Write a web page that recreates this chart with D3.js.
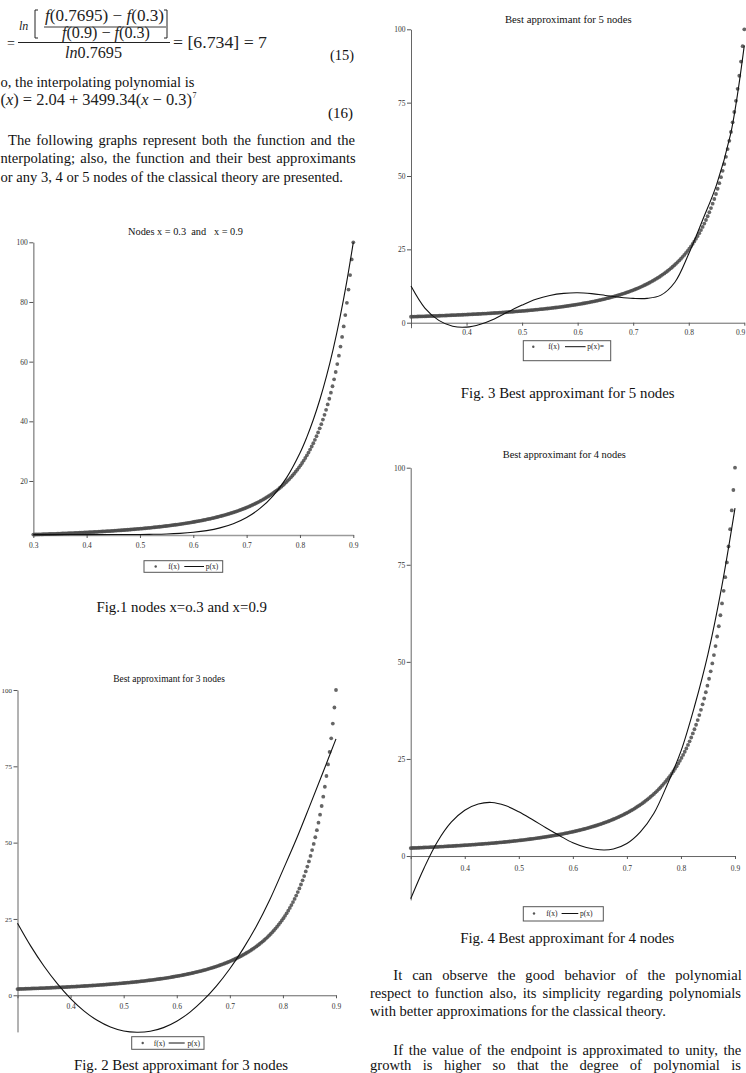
<!DOCTYPE html>
<html><head><meta charset="utf-8">
<script src="https://cdn.jsdelivr.net/npm/d3@7"></script>
<style>
html,body{margin:0;padding:0;background:#fff;overflow:hidden}
svg{display:block}
</style></head>
<body><svg id="page" width="746" height="1073"></svg>
<script>
// ---------- DATA ----------
// f(x) sample points (same function in every figure)
const fX = [
0.300,0.303,0.306,0.309,0.312,0.315,0.318,0.321,0.324,0.327,
0.330,0.333,0.336,0.339,0.342,0.345,0.348,0.351,0.354,0.357,
0.360,0.363,0.366,0.369,0.372,0.375,0.378,0.381,0.384,0.387,
0.390,0.393,0.396,0.399,0.402,0.405,0.408,0.411,0.414,0.417,
0.420,0.423,0.426,0.429,0.432,0.435,0.438,0.441,0.444,0.447,
0.450,0.453,0.456,0.459,0.462,0.465,0.468,0.471,0.474,0.477,
0.480,0.483,0.486,0.489,0.492,0.495,0.498,0.501,0.504,0.507,
0.510,0.513,0.516,0.519,0.522,0.525,0.528,0.531,0.534,0.537,
0.540,0.543,0.546,0.549,0.552,0.555,0.558,0.561,0.564,0.567,
0.570,0.573,0.576,0.579,0.582,0.585,0.588,0.591,0.594,0.597,
0.600,0.603,0.606,0.609,0.612,0.615,0.618,0.621,0.624,0.627,
0.630,0.633,0.636,0.639,0.642,0.645,0.648,0.651,0.654,0.657,
0.660,0.663,0.666,0.669,0.672,0.675,0.678,0.681,0.684,0.687,
0.690,0.693,0.696,0.699,0.702,0.705,0.708,0.711,0.714,0.717,
0.720,0.723,0.726,0.729,0.732,0.735,0.738,0.741,0.744,0.747,
0.750,0.753,0.756,0.759,0.762,0.765,0.768,0.771,0.774,0.777,
0.780,0.783,0.786,0.789,0.792,0.795,0.798,0.801,0.804,0.807,
0.810,0.813,0.816,0.819,0.822,0.825,0.828,0.831,0.834,0.837,
0.840,0.843,0.846,0.849,0.852,0.855,0.858,0.861,0.864,0.867,
0.870,0.873,0.876,0.879,0.882,0.885,0.888,0.891,0.894,0.897,
0.900];
const fY = [
2.04,2.06,2.08,2.09,2.11,2.13,2.15,2.17,2.19,2.21,
2.23,2.25,2.27,2.29,2.31,2.33,2.35,2.37,2.40,2.42,
2.44,2.46,2.49,2.51,2.54,2.56,2.58,2.61,2.64,2.66,
2.69,2.71,2.74,2.77,2.80,2.82,2.85,2.88,2.91,2.94,
2.97,3.00,3.04,3.07,3.10,3.13,3.17,3.20,3.23,3.27,
3.31,3.34,3.38,3.42,3.45,3.49,3.53,3.57,3.61,3.66,
3.70,3.74,3.79,3.83,3.88,3.92,3.97,4.02,4.06,4.11,
4.16,4.22,4.27,4.32,4.38,4.43,4.49,4.55,4.61,4.66,
4.73,4.79,4.85,4.92,4.98,5.05,5.12,5.19,5.26,5.33,
5.41,5.48,5.56,5.64,5.72,5.81,5.89,5.98,6.07,6.16,
6.25,6.34,6.44,6.54,6.64,6.75,6.85,6.96,7.07,7.19,
7.30,7.42,7.55,7.67,7.80,7.93,8.07,8.21,8.35,8.50,
8.65,8.81,8.96,9.13,9.30,9.47,9.64,9.83,10.01,10.21,
10.41,10.61,10.82,11.04,11.26,11.49,11.73,11.97,12.23,12.49,
12.76,13.03,13.32,13.62,13.92,14.24,14.57,14.91,15.26,15.62,
16.00,16.39,16.80,17.22,17.65,18.11,18.58,19.07,19.58,20.11,
20.66,21.24,21.84,22.46,23.11,23.80,24.51,25.25,26.03,26.85,
27.70,28.60,29.54,30.52,31.56,32.65,33.80,35.01,36.29,37.64,
39.06,40.57,42.17,43.86,45.65,47.56,49.59,51.76,54.07,56.53,
59.17,62.00,65.04,68.30,71.82,75.61,79.72,84.17,89.00,94.26,
100];

// p(x) curves, one per figure
const p1X = [0.3,0.35,0.4,0.45,0.5,0.525,0.55,0.575,0.6,0.625,0.65,0.675,0.7,0.725,0.75,0.775,0.8,0.8125,0.825,0.8375,0.85,0.8625,0.875,0.8875,0.9];
const p1Y = [2.04,2.04,2.04,2.05,2.08,2.14,2.25,2.46,2.81,3.38,4.29,5.69,7.77,10.80,15.12,21.13,29.38,34.54,40.51,47.40,55.31,64.39,74.76,86.57,99.99];

const p2X = [0.3,0.325,0.35,0.375,0.4,0.425,0.45,0.475,0.5,0.525,0.55,0.575,0.6,0.625,0.65,0.675,0.7,0.725,0.75,0.775,0.8,0.825,0.85,0.875,0.9];
const p2Y = [23.6,16.1,9.5,3.8,-1.1,-5.1,-8.2,-10.4,-11.7,-12.1,-11.8,-10.6,-8.5,-5.5,-1.6,3.1,8.7,15.2,22.6,31.2,41.0,51.0,61.8,72.8,84.0];

const p3X = [0.3,0.325,0.35,0.375,0.4,0.425,0.45,0.475,0.5,0.525,0.55,0.575,0.6,0.625,0.65,0.675,0.7,0.725,0.75,0.775,0.8,0.825,0.85,0.875,0.8875,0.9];
const p3Y = [12.5,5.0,0.8,-1.2,-1.5,-0.5,1.3,3.7,6.0,8.0,9.3,10.0,10.2,9.9,9.3,8.7,8.3,8.3,9.4,13.8,23.5,35.0,47.0,64.0,77.5,94.5];

const p4X = [0.3,0.325,0.35,0.375,0.4,0.425,0.45,0.475,0.5,0.525,0.55,0.575,0.6,0.625,0.65,0.675,0.7,0.725,0.75,0.775,0.8,0.825,0.85,0.875,0.9];
const p4Y = [-11.0,-3.0,3.8,8.7,11.8,13.4,13.8,13.0,11.4,9.4,7.3,5.3,3.4,2.2,1.6,1.8,3.2,6.2,11.0,18.5,27.0,38.5,52.0,69.0,89.6];

// ticks
const xTicks = [0.3,0.4,0.5,0.6,0.7,0.8,0.9];
const xTickLabels = ["0.3","0.4","0.5","0.6","0.7","0.8","0.9"];
const yTicksA = [20,40,60,80,100];
const yTicksB = [0,25,50,75,100];

// texts
const titles = ["Nodes x = 0.3  and   x = 0.9","Best approximant for 3 nodes","Best approximant for 5 nodes","Best approximant for 4 nodes"];
const captions = ["Fig.1 nodes x=o.3 and x=0.9","Fig. 2 Best approximant for 3 nodes","Fig. 3 Best approximant for 5 nodes","Fig. 4 Best approximant for 4 nodes"];
const legendF = "f(x)";
const legendP = ["p(x)","p(x)","p(x)=","p(x)"];

// ---------- HELPERS ----------
const SERIF = "Liberation Serif, Tinos, Times New Roman, serif";
const svg = d3.select("#page");
svg.append("rect").attr("width",746).attr("height",1073).attr("fill","#fff");

function txt(x,y,s,size,o){
  o = o||{};
  const t = svg.append("text").attr("x",x).attr("y",y).text(s)
    .style("font-family",SERIF).attr("font-size",size).attr("fill",o.fill||"#111")
    .style("white-space","pre");
  if(o.anchor) t.attr("text-anchor",o.anchor);
  if(o.italic) t.attr("font-style","italic");
  if(o.mid) t.attr("dominant-baseline","central");
  if(o.fit) fit(t,o.fit);
  return t;
}
function fit(t,target){
  const w = t.node().getComputedTextLength();
  const fs = +t.attr("font-size");
  const nf = fs*target/w;
  t.attr("font-size",nf);
  return nf;
}
function justify(t,target){
  const w = t.node().getComputedTextLength();
  const n = (t.text().match(/ /g)||[]).length;
  if(n>0) t.style("word-spacing",((target-w)/n)+"px");
}

// ---------- CHARTS ----------
const charts = [
 {px:p1X, py:p1Y, xr:[33.3,353.3], ydom:[1.9,100], yr:[535,242.3], yticks:yTicksA, hideFirst:false, xpad:5, ylab:7.5,
  axisColor:"#9a9a9a", axisW:1.6,
  tx:185.5, ty:231.7, tsize:10, tlen:115,
  cx:181.7, cy:607, clen:170.7,
  leg:{x:144,y:560.7,w:78.7,h:11.6,dot:11.7,f:24.3,l1:40.3,l2:60,p:61.7,cy:566.5}},
 {px:p2X, py:p2Y, xr:[17.5,336], ydom:[-12,100], yr:[1031.9,690], yticks:yTicksB, hideFirst:true, xpad:5, ylab:7,
  axisColor:"#666", axisW:1,
  tx:169, ty:679, tsize:9.5, tlen:111.7,
  cx:181, cy:1065, clen:214.3,
  leg:{x:131.7,y:1036.7,w:72.3,h:12.6,dot:11,f:22,l1:37,l2:53,p:55.7,cy:1043}},
 {px:p3X, py:p3Y, xr:[411,744.3], ydom:[-1.7,100], yr:[327.7,29.3], yticks:yTicksB, hideFirst:true, xpad:4, ylab:7.5,
  axisColor:"#666", axisW:1,
  tx:568.3, ty:19, tsize:10.3, tlen:126.7,
  cx:567.7, cy:393.3, clen:214,
  leg:{x:523.3,y:340.7,w:87.4,h:20,dot:10,f:25,l1:41.7,l2:62.3,p:64,cy:346.7}},
 {px:p4X, py:p4Y, xr:[410.7,735], ydom:[-11.3,100], yr:[899.9,467.7], yticks:yTicksB, hideFirst:true, xpad:7, ylab:7.5,
  axisColor:"#666", axisW:1,
  tx:564.3, ty:454, tsize:10.3, tlen:123.3,
  cx:567.3, cy:938.3, clen:214.3,
  leg:{x:523.3,y:906.7,w:80,h:14.3,dot:10.7,f:23,l1:38.3,l2:55,p:56.7,cy:913.5}}
];

charts.forEach((c,ci)=>{
  const x = d3.scaleLinear().domain([0.3,0.9]).range(c.xr);
  const y = d3.scaleLinear().domain(c.ydom).range(c.yr);
  const g = svg.append("g");
  const xAxisY = c.ydom[0] > 0 ? y(c.ydom[0]) : y(0);

  const ya = g.append("g").attr("transform",`translate(${x(0.3)},0)`)
    .call(d3.axisLeft(y).tickValues(c.yticks).tickSize(4).tickSizeOuter(0).tickPadding(1.5));
  ya.select(".domain").attr("stroke",c.axisColor).attr("stroke-width",c.axisW);
  ya.selectAll(".tick line").attr("stroke","#555");
  ya.selectAll("text").style("font-family",SERIF).attr("font-size",c.ylab).attr("fill","#333");

  const xa = g.append("g").attr("transform",`translate(0,${xAxisY})`)
    .call(d3.axisBottom(x).tickValues(xTicks).tickSize(3).tickSizeOuter(0).tickPadding(c.xpad)
      .tickFormat((d,i)=> (c.hideFirst && i===0) ? "" : xTickLabels[i]));
  xa.select(".domain").attr("stroke",c.axisColor).attr("stroke-width",c.axisW);
  xa.selectAll(".tick line").attr("stroke","#555");
  xa.selectAll("text").style("font-family",SERIF).attr("font-size",7.5).attr("fill","#333");
  xa.selectAll(".tick text").each(function(){
    const b = this.getBBox(); const m = this.getCTM();
    const right = m.e + b.x + b.width;
    if(right > 745.5) d3.select(this).attr("dx", (745.5-right)+"px");
  });

  g.append("g").selectAll("circle").data(fX.map((v,i)=>[v,fY[i]])).join("circle")
    .attr("cx",d=>x(d[0])).attr("cy",d=>y(d[1])).attr("r",1.9)
    .attr("fill","#4a4a4a").attr("fill-opacity",0.85);

  const line = d3.line().x(d=>x(d[0])).y(d=>y(d[1])).curve(d3.curveCatmullRom.alpha(0.5));
  g.append("path").datum(c.px.map((v,i)=>[v,c.py[i]])).attr("d",line)
    .attr("fill","none").attr("stroke","#111").attr("stroke-width",1.1);

  txt(c.tx,c.ty,titles[ci],c.tsize,{anchor:"middle",mid:true,fit:c.tlen});
  txt(c.cx,c.cy,captions[ci],13.5,{anchor:"middle",mid:true,fit:c.clen});

  const L = c.leg;
  svg.append("rect").attr("x",L.x).attr("y",L.y).attr("width",L.w).attr("height",L.h)
    .attr("fill","#fff").attr("stroke","#555").attr("stroke-width",1);
  svg.append("circle").attr("cx",L.x+L.dot).attr("cy",L.cy).attr("r",1.2).attr("fill","#555");
  txt(L.x+L.f,L.cy,legendF,7.5,{mid:true,fill:"#222"});
  svg.append("line").attr("x1",L.x+L.l1).attr("x2",L.x+L.l2).attr("y1",L.cy).attr("y2",L.cy)
    .attr("stroke","#111").attr("stroke-width",1);
  txt(L.x+L.p,L.cy,legendP[ci],7.5,{mid:true,fill:"#222"});
});

// ---------- BODY TEXT ----------
const EQ = "#222";
txt(7,47.5,"=",14,{fill:EQ});
txt(19,29.5,"ln",12,{italic:true,fill:EQ});
svg.append("path").attr("d","M38,10 L35,10 L35,38 L38,38").attr("fill","none").attr("stroke",EQ).attr("stroke-width",1);
svg.append("path").attr("d","M164,10 L167,10 L167,38 L164,38").attr("fill","none").attr("stroke",EQ).attr("stroke-width",1);
function mathText(x,y,size,parts,target){
  const t = svg.append("text").attr("x",x).attr("y",y).style("font-family",SERIF).attr("font-size",size).attr("fill",EQ)
    .style("white-space","pre");
  parts.forEach(p=>{ const s=t.append("tspan").text(p[0]); if(p[1]) s.attr("font-style","italic"); });
  if(target) fit(t,target);
  return t;
}
mathText(45,20.5,12.5,[["f",1],["(0.7695) \u2212 "],["f",1],["(0.3)"]],119);
svg.append("line").attr("x1",44).attr("x2",166).attr("y1",27).attr("y2",27).attr("stroke",EQ).attr("stroke-width",0.9);
mathText(62,37.5,12.5,[["f",1],["(0.9) \u2212 "],["f",1],["(0.3)"]],88);
svg.append("line").attr("x1",18).attr("x2",170).attr("y1",42.5).attr("y2",42.5).attr("stroke",EQ).attr("stroke-width",1);
mathText(65,58,12.5,[["ln",1],["0.7695"]],57);
txt(173,48,"= [6.734] = 7",13,{fill:EQ,fit:94});
txt(330,59.5,"(15)",13.5,{fit:24});

mathText(0.5,104.5,13,[["("],["x",1],[") = 2.04 + 3499.34("],["x",1],[" \u2212 0.3)"]],191.5);
txt(192.5,98,"7",8,{fill:EQ});
txt(328,117.8,"(16)",13.5,{fit:25});

// left column paragraph
const bodyL = txt(0.5,181.5,"or any 3, 4 or 5 nodes of the classical theory are presented.",13.5,{});
const fs = fit(bodyL,342.8);
txt(0.5,86.5,"o, the interpolating polynomial is",fs,{});
justify(txt(8,144.5,"The following graphs represent both the function and the",fs,{}),347);
justify(txt(0.5,163,"nterpolating; also, the function and their best approximants",fs,{}),355.2);

// right column paragraph (same body font size)
justify(txt(393.3,979.5,"It can observe the good behavior of the polynomial",fs,{}),348.4);
justify(txt(370,997.8,"respect to function also, its simplicity regarding polynomials",fs,{}),371);
txt(370,1016.2,"with better approximations for the classical theory.",fs,{});
justify(txt(393.3,1054.5,"If the value of the endpoint is approximated to unity, the",fs,{}),348);
justify(txt(370,1069.8,"growth is higher so that the degree of polynomial is",fs,{}),371);
</script>
</body></html>
